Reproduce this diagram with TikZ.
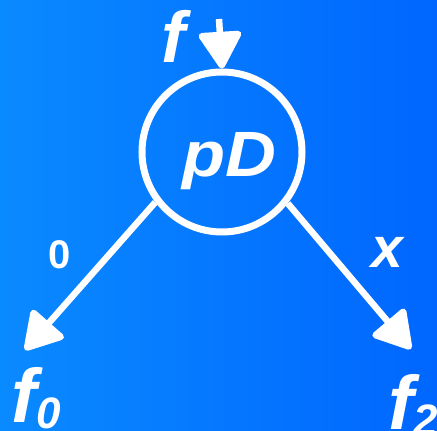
\documentclass[tikz,border=0pt]{standalone}
\usepackage{fontspec}
\setmainfont{Liberation Sans}
\usetikzlibrary{arrows.meta}
\definecolor{bgL}{HTML}{0A8AFF}
\definecolor{bgR}{HTML}{0066FF}
\tikzset{
  edge/.style={draw=white, line width=6.5pt, -{Triangle[length=40pt,width=46pt,round]}},
  lbl/.style={text=white, font=\bfseries\itshape, inner sep=0pt},
}
\begin{document}
\begin{tikzpicture}[x=1pt,y=-1pt]
\shade[left color=bgL, right color=bgR] (0,0) rectangle (437,431);
\useasboundingbox (0,0) rectangle (437,431);
\node[circle, draw=white, line width=7pt, minimum size=160pt, inner sep=0pt] (pd) at (222,152) {};
\node[lbl, anchor=base] (pdt) at (229,176) {\scalebox{1.1}[1]{\fontsize{64}{64}\selectfont\bfseries\itshape pD}};
\coordinate (top) at (219,19);
\coordinate (l) at (25,350);
\coordinate (r) at (411,349);
\draw[edge] (top) -- (pd.north);
\draw[edge] (pd.217) -- (l);
\draw[edge] (pd.-38) -- (r);
\node[lbl, font=\fontsize{72}{72}\selectfont\bfseries\itshape, anchor=base] (ft) at (173,62) {f};
\node[lbl, font=\fontsize{40}{40}\selectfont\bfseries, anchor=base] (zero) at (60,268) {0};
\node[lbl, font=\fontsize{57}{57}\selectfont\bfseries\itshape, anchor=base] (xl) at (387,267) {x};
\node[lbl, font=\fontsize{76}{76}\selectfont\bfseries\itshape, anchor=base west] (f0) at (11,422) {f\raisebox{-6pt}{\fontsize{44}{44}\selectfont 0}};
\node[lbl, font=\fontsize{76}{76}\selectfont\bfseries\itshape, anchor=base west] (f2) at (388,429) {f\raisebox{-6pt}{\fontsize{44}{44}\selectfont 2}};
\end{tikzpicture}
\end{document}
